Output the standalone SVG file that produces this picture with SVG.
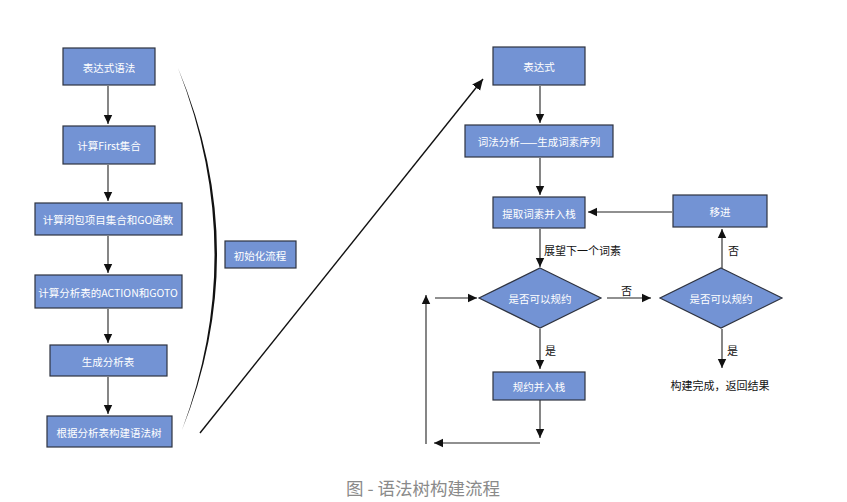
<svg xmlns="http://www.w3.org/2000/svg" width="847" height="502" viewBox="0 0 847 502">
<defs>
<style>
.box{fill:#7393d4;stroke:#2e3340;stroke-width:1.2}
.bt{fill:#fff;font-family:"Noto Sans CJK SC",sans-serif;font-size:10.5px;text-anchor:middle;dominant-baseline:central}
.lbl{fill:#111;font-family:"Noto Sans CJK SC",sans-serif;font-size:11px;dominant-baseline:central}
.ln{fill:none;stroke:#222;stroke-width:1.1}
</style>
<marker id="ah" markerUnits="userSpaceOnUse" markerWidth="10" markerHeight="10" refX="9" refY="5" orient="auto">
<path d="M0,0.8 L9,5 L0,9.2 z" fill="#111"/>
</marker>
<marker id="ahb" markerUnits="userSpaceOnUse" markerWidth="12" markerHeight="12" refX="11" refY="6" orient="auto">
<path d="M0,1 L11,6 L0,11 z" fill="#111"/>
</marker>
</defs>
<rect width="847" height="502" fill="#fff"/>

<g id="connectors">
<line class="ln" x1="108" y1="86" x2="108" y2="124" marker-end="url(#ah)"/>
<line class="ln" x1="108" y1="165" x2="108" y2="201" marker-end="url(#ah)"/>
<line class="ln" x1="108" y1="236" x2="108" y2="273" marker-end="url(#ah)"/>
<line class="ln" x1="108" y1="309" x2="108" y2="343" marker-end="url(#ah)"/>
<line class="ln" x1="108" y1="377" x2="108" y2="414" marker-end="url(#ah)"/>
<path d="M178,68 Q254,250 182,430 Q249,250 178,68 Z" fill="#111"/>
<path d="M200,433 L483,79" fill="none" stroke="#111" stroke-width="1.4" marker-end="url(#ahb)"/>
<line class="ln" x1="540" y1="86" x2="540" y2="123" marker-end="url(#ah)"/>
<line class="ln" x1="540" y1="158" x2="540" y2="195" marker-end="url(#ah)"/>
<line class="ln" x1="540" y1="229" x2="540" y2="267" marker-end="url(#ah)"/>
<line class="ln" x1="672" y1="212" x2="588" y2="212" marker-end="url(#ah)"/>
<line class="ln" x1="722" y1="268" x2="722" y2="229" marker-end="url(#ah)"/>
<line class="ln" x1="607" y1="298" x2="651" y2="298" marker-end="url(#ah)"/>
<line class="ln" x1="540" y1="329" x2="540" y2="369" marker-end="url(#ah)"/>
<line class="ln" x1="540" y1="400" x2="540" y2="438" marker-end="url(#ah)"/>
<line class="ln" x1="540" y1="443" x2="434" y2="443" marker-end="url(#ah)"/>
<line class="ln" x1="426" y1="444" x2="426" y2="295" marker-end="url(#ah)"/>
<line class="ln" x1="435" y1="298" x2="477" y2="298" marker-end="url(#ah)"/>
<line class="ln" x1="722" y1="329" x2="722" y2="368" marker-end="url(#ah)"/>
</g>

<g id="n1"><rect class="box" x="63" y="48" width="92" height="37"/><text class="bt" x="109" y="67">表达式语法</text></g>
<g id="n2"><rect class="box" x="63" y="126" width="92" height="38"/><text class="bt" x="109" y="145">计算First集合</text></g>
<g id="n3"><rect class="box" x="35" y="203" width="147" height="32"/><text class="bt" x="108" y="219">计算闭包项目集合和GO函数</text></g>
<g id="n4"><rect class="box" x="35" y="275" width="147" height="33"/><text class="bt" x="108" y="292">计算分析表的ACTION和GOTO</text></g>
<g id="n5"><rect class="box" x="50" y="345" width="117" height="31"/><text class="bt" x="108" y="361">生成分析表</text></g>
<g id="n6"><rect class="box" x="47" y="416" width="125" height="31"/><text class="bt" x="109" y="432">根据分析表构建语法树</text></g>
<g id="n7"><rect class="box" x="225" y="241" width="71" height="27"/><text class="bt" x="260" y="255">初始化流程</text></g>

<g id="r1"><rect class="box" x="493" y="47" width="92" height="38"/><text class="bt" x="539" y="66">表达式</text></g>
<g id="r2"><rect class="box" x="465" y="125" width="148" height="32"/><text class="bt" x="539" y="141">词法分析——生成词素序列</text></g>
<g id="r3"><rect class="box" x="493" y="197" width="92" height="31"/><text class="bt" x="539" y="213">提取词素并入栈</text></g>
<g id="r4"><rect class="box" x="673" y="195" width="94" height="32"/><text class="bt" x="720" y="211">移进</text></g>
<g id="r5"><path class="box" d="M540,268 L601,298 L540,328 L479,298 Z"/><text class="bt" x="540" y="298">是否可以规约</text></g>
<g id="r6"><path class="box" d="M721,268 L782,298 L721,328 L660,298 Z"/><text class="bt" x="721" y="298">是否可以规约</text></g>
<g id="r7"><rect class="box" x="493" y="372" width="92" height="28"/><text class="bt" x="539" y="386">规约并入栈</text></g>

<g id="labels">
<text class="lbl" x="544" y="250">展望下一个词素</text>
<text class="lbl" x="621" y="290">否</text>
<text class="lbl" x="728" y="250">否</text>
<text class="lbl" x="545" y="350">是</text>
<text class="lbl" x="727" y="350">是</text>
<text class="lbl" x="720" y="385" text-anchor="middle">构建完成，返回结果</text>
<text x="423" y="487" fill="#8a8a8a" font-family="Noto Sans CJK SC, sans-serif" font-size="17.5px" text-anchor="middle" dominant-baseline="central">图 - 语法树构建流程</text>
</g>
</svg>
